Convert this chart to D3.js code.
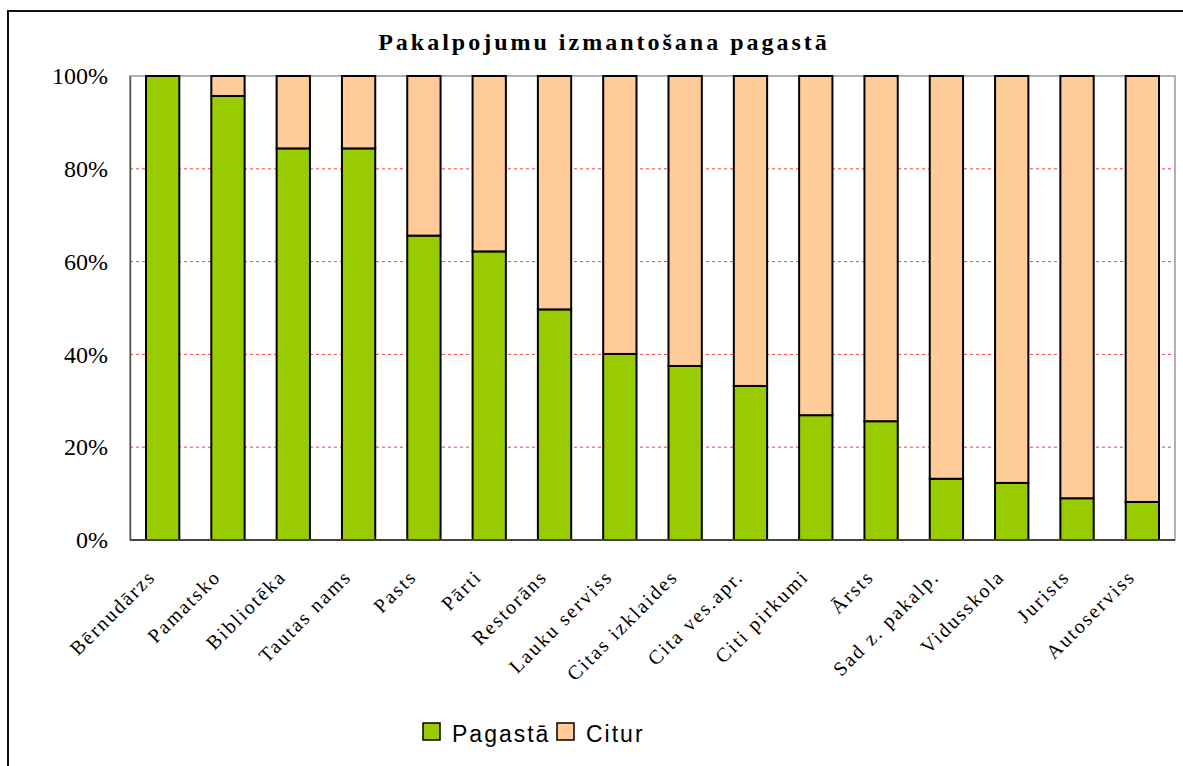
<!DOCTYPE html>
<html>
<head>
<meta charset="utf-8">
<script src="https://cdn.jsdelivr.net/npm/d3@7"></script>
<style>
  html, body { margin: 0; padding: 0; background: #fff; }
  svg { display: block; }
</style>
</head>
<body>
<svg id="chart" width="1183" height="766"></svg>
<script>
// Services and the share of residents using them in the parish
const categories = [
  "Bērnudārzs", "Pamatsko", "Bibliotēka", "Tautas nams", "Pasts", "Pārti",
  "Restorāns", "Lauku serviss", "Citas izklaides", "Cita ves.apr.",
  "Citi pirkumi", "Ārsts", "Sad z. pakalp.", "Vidusskola", "Jurists", "Autoserviss"
];
const pagasta = [100, 95.7, 84.4, 84.4, 65.6, 62.2, 49.7, 40.1, 37.5, 33.2, 26.9, 25.6, 13.2, 12.3, 9.0, 8.2];
const citur = pagasta.map(v => 100 - v);
const seriesNames = ["Pagastā", "Citur"];
const seriesColors = ["#99cc00", "#ffcc99"];
const yTicks = [0, 20, 40, 60, 80, 100];
const titleText = "Pakalpojumu izmantošana pagastā";

const serif = "'Liberation Serif', 'Times New Roman', serif";
const svg = d3.select("#chart");
const plot = { left: 130, right: 1175, top: 76, bottom: 540 };

// outer frame
svg.append("rect")
  .attr("x", 8).attr("y", 11).attr("width", 1200).attr("height", 800)
  .attr("fill", "none").attr("stroke", "#111").attr("stroke-width", 2);

svg.append("text")
  .attr("x", 604).attr("y", 50)
  .attr("text-anchor", "middle")
  .style("font-family", serif)
  .style("font-weight", "bold").style("font-size", "24px")
  .style("letter-spacing", "3px")
  .text(titleText);

const x = d3.scaleBand().domain(categories).range([plot.left, plot.right]).paddingInner(0.49).paddingOuter(0.245);
const y = d3.scaleLinear().domain([0, 100]).range([plot.bottom, plot.top]);

// gridlines
svg.append("g").selectAll("line")
  .data(yTicks.filter(t => t > 0 && t < 100))
  .join("line")
  .attr("x1", plot.left).attr("x2", plot.right)
  .attr("y1", d => y(d)).attr("y2", d => y(d))
  .attr("stroke", "#f04040").attr("stroke-width", 1)
  .attr("stroke-dasharray", "3,3");

// plot frame
svg.append("rect")
  .attr("x", plot.left).attr("y", plot.top)
  .attr("width", plot.right - plot.left).attr("height", plot.bottom - plot.top)
  .attr("fill", "none").attr("stroke", "#999").attr("stroke-width", 1.5);

// stacked bars
const rows = categories.map((c, i) => ({ cat: c, Pagastā: pagasta[i], Citur: citur[i] }));
const stacked = d3.stack().keys(seriesNames)(rows);

svg.append("g").selectAll("g")
  .data(stacked)
  .join("g")
  .attr("fill", (d, i) => seriesColors[i])
  .selectAll("rect")
  .data(d => d.filter(s => s[1] - s[0] > 0))
  .join("rect")
  .attr("x", d => x(d.data.cat))
  .attr("width", x.bandwidth())
  .attr("y", d => y(d[1]))
  .attr("height", d => y(d[0]) - y(d[1]))
  .attr("stroke", "#000").attr("stroke-width", 2);

// y axis
const yAxis = svg.append("g")
  .attr("transform", `translate(${plot.left},0)`)
  .call(d3.axisLeft(y).tickValues(yTicks).tickFormat(d => d + "%").tickSize(0).tickPadding(22));
yAxis.select(".domain").attr("stroke", "#555").attr("stroke-width", 1.5);
yAxis.selectAll("text")
  .style("font-family", serif)
  .style("font-size", "24px").attr("fill", "#000");

// bottom axis line
svg.append("line")
  .attr("x1", plot.left).attr("x2", plot.right)
  .attr("y1", plot.bottom).attr("y2", plot.bottom)
  .attr("stroke", "#444").attr("stroke-width", 2);

// category labels
const xAxis = svg.append("g")
  .attr("transform", `translate(0,${plot.bottom})`)
  .call(d3.axisBottom(x).tickSize(0).tickPadding(0));
xAxis.select(".domain").remove();
xAxis.selectAll("text")
  .style("font-family", serif)
  .style("font-size", "20px").attr("fill", "#000")
  .style("letter-spacing", "2px")
  .attr("text-anchor", "end")
  .attr("dy", null).attr("y", 0)
  .attr("transform", "translate(-6,38) rotate(-45)");

// legend
const legend = svg.append("g");
const legendX = [423, 557];
seriesNames.forEach((name, i) => {
  legend.append("rect")
    .attr("x", legendX[i]).attr("y", 723).attr("width", 17).attr("height", 17)
    .attr("fill", seriesColors[i]).attr("stroke", "#000").attr("stroke-width", 1.5);
  legend.append("text")
    .attr("x", legendX[i] + 29).attr("y", 742)
    .style("font-family", "'Liberation Sans', Arial, sans-serif")
    .style("font-size", "23px").attr("fill", "#000")
    .style("letter-spacing", "2px")
    .text(name);
});
</script>
</body>
</html>
